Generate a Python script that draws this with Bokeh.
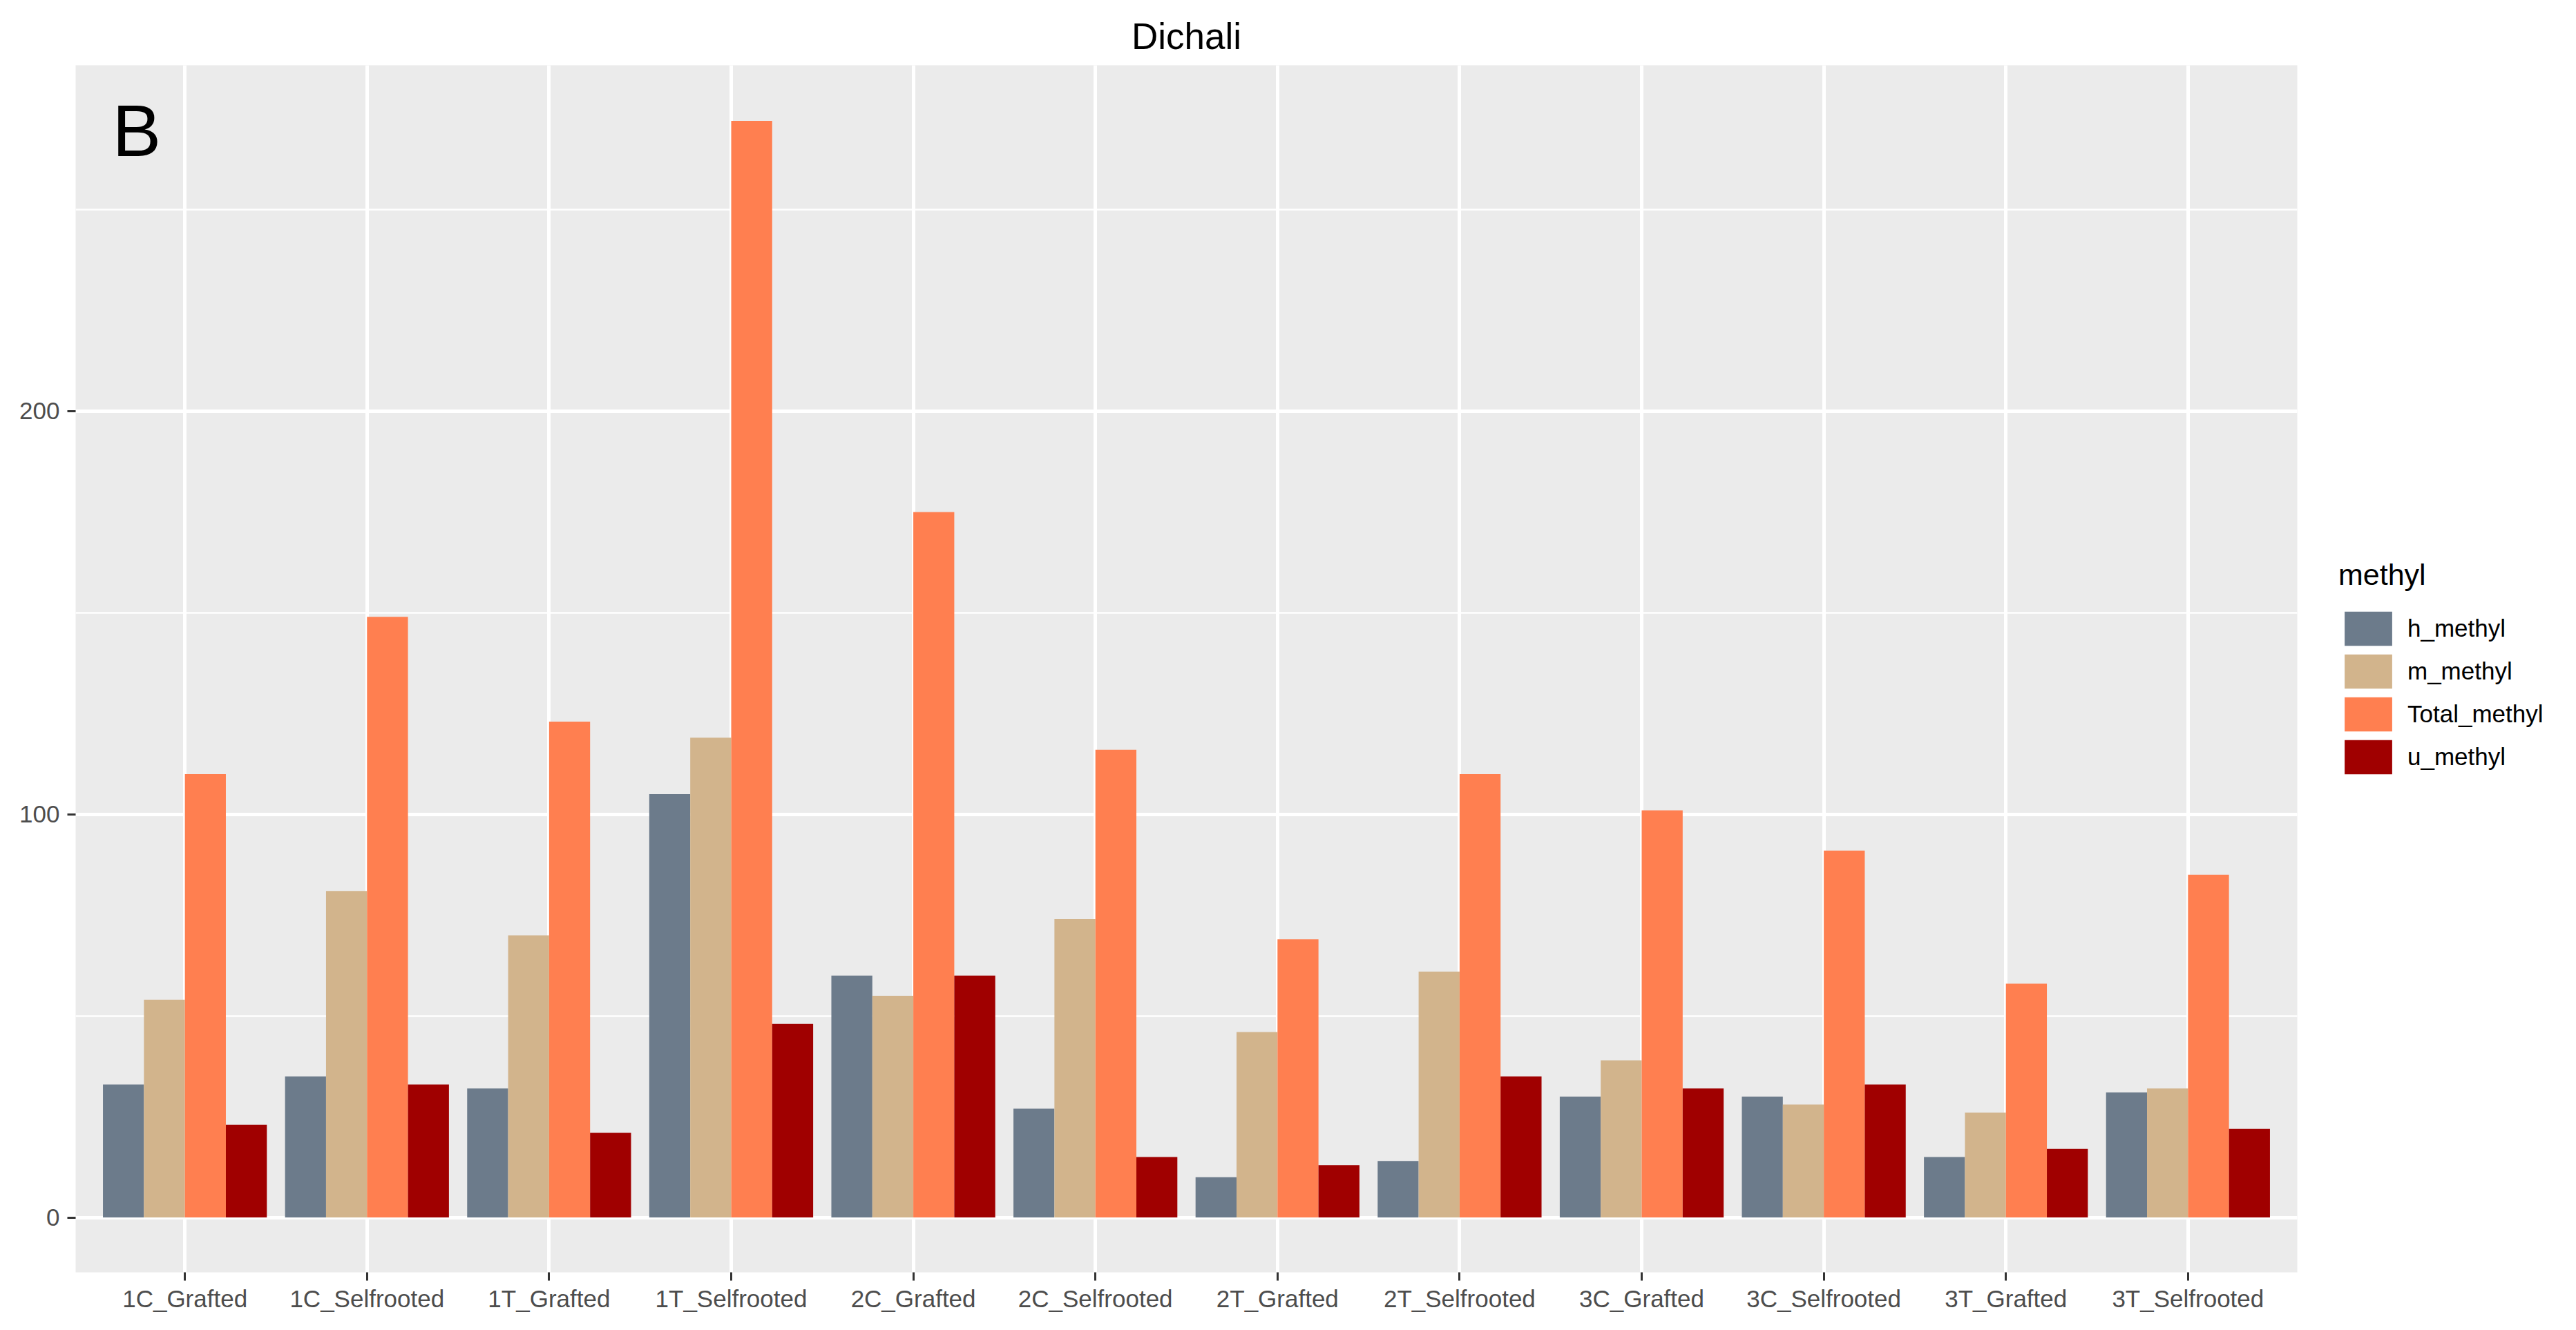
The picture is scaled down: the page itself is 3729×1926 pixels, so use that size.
from bokeh.plotting import figure
from bokeh.layouts import row
from bokeh.models import (ColumnDataSource, Range1d, FixedTicker, SingleIntervalTicker,
                          Legend, LegendItem, Label)
from bokeh.transform import dodge
from bokeh.embed import file_html
from bokeh.resources import INLINE

# ---- data ----
categories = ["1C_Grafted", "1C_Selfrooted", "1T_Grafted", "1T_Selfrooted",
              "2C_Grafted", "2C_Selfrooted", "2T_Grafted", "2T_Selfrooted",
              "3C_Grafted", "3C_Selfrooted", "3T_Grafted", "3T_Selfrooted"]
h_methyl = [33, 35, 32, 105, 60, 27, 10, 14, 30, 30, 15, 31]
m_methyl = [54, 81, 70, 119, 55, 74, 46, 61, 39, 28, 26, 32]
total_methyl = [110, 149, 123, 272, 175, 116, 69, 110, 101, 91, 58, 85]
u_methyl = [23, 33, 21, 48, 60, 15, 13, 35, 32, 33, 17, 22]
series_names = ["h_methyl", "m_methyl", "Total_methyl", "u_methyl"]
series_colors = ["#6C7B8B", "#D2B48C", "#FF7F50", "#A00000"]
title_text = "Dichali"
panel_tag = "B"
legend_title = "methyl"

FONT = "Liberation Sans"

xpos = list(range(1, len(categories) + 1))
source = ColumnDataSource(dict(x=xpos, h_methyl=h_methyl, m_methyl=m_methyl,
                               Total_methyl=total_methyl, u_methyl=u_methyl))

W, H = 3713, 1910
W1 = 3340
W2 = W - W1

p = figure(width=W1, height=H, output_backend="svg", toolbar_location=None,
           x_range=Range1d(0.4, 12.6), y_range=Range1d(-13.6, 285.8),
           min_border_left=109, min_border_right=15,
           min_border_top=94, min_border_bottom=68)

p.title.text = title_text
p.title.align = "center"
p.title.text_font = FONT
p.title.text_font_size = "53px"
p.title.text_font_style = "normal"
p.title.text_color = "black"
p.title.standoff = 26

p.background_fill_color = "#EBEBEB"
p.border_fill_color = "white"
p.outline_line_color = None

bar_w = 0.9 / 4
offsets = [-1.5 * bar_w, -0.5 * bar_w, 0.5 * bar_w, 1.5 * bar_w]
for name, col, off in zip(series_names, series_colors, offsets):
    p.vbar(x=dodge("x", off, range=p.x_range), top=name, bottom=0, width=bar_w,
           source=source, fill_color=col, line_color=None)

# axes
p.xaxis.ticker = FixedTicker(ticks=xpos)
p.xaxis.major_label_overrides = {i: c for i, c in zip(xpos, categories)}
p.yaxis.ticker = SingleIntervalTicker(interval=100, num_minor_ticks=2)
for ax in (p.xaxis[0], p.yaxis[0]):
    ax.axis_line_color = None
    ax.major_tick_in = 0
    ax.major_tick_out = 12
    ax.major_tick_line_color = "#333333"
    ax.major_tick_line_width = 3
    ax.minor_tick_line_color = None
    ax.major_label_text_font = FONT
    ax.major_label_text_font_size = "35px"
    ax.major_label_text_color = "#4D4D4D"
p.xaxis.major_label_standoff = 6
p.yaxis.major_label_standoff = 11

# grids
p.xgrid.grid_line_color = "white"
p.xgrid.grid_line_width = 5
p.ygrid.grid_line_color = "white"
p.ygrid.grid_line_width = 5
p.ygrid.minor_grid_line_color = "white"
p.ygrid.minor_grid_line_width = 2.5

tag = Label(x=53, y=1654, x_units="screen", y_units="screen", text=panel_tag,
            text_font=FONT, text_font_size="106px", text_color="black",
            text_align="left", text_baseline="alphabetic")
p.add_layout(tag)

# ---- legend, drawn in a narrow companion figure to the right ----
# (the key renderers use the same data, but this figure's ranges keep them out of view)
lf = figure(width=W2, height=H, output_backend="svg", toolbar_location=None,
            x_axis_type=None, y_axis_type=None,
            x_range=Range1d(-20, -19), y_range=Range1d(0, 1),
            min_border_left=0, min_border_right=0, min_border_top=0, min_border_bottom=0)
lf.outline_line_color = None
lf.background_fill_color = "white"
lf.border_fill_color = "white"
lf.xgrid.visible = False
lf.ygrid.visible = False

key_renderers = []
for name, col in zip(series_names, series_colors):
    r = lf.vbar(x="x", top=name, bottom=0, width=bar_w, source=source,
                fill_color=col, line_color=None)
    key_renderers.append(r)

items = [LegendItem(label=n, renderers=[r]) for n, r in zip(series_names, key_renderers)]
legend = Legend(items=items, location=(45, 715), title=legend_title,
                title_text_font=FONT, title_text_font_size="43px",
                title_text_font_style="normal", title_text_color="black",
                title_standoff=22,
                label_text_font=FONT, label_text_font_size="35px",
                label_text_color="black",
                glyph_width=86, glyph_height=62, spacing=0, label_standoff=14,
                padding=0, margin=0, border_line_color=None,
                background_fill_alpha=0)
lf.add_layout(legend)

layout = row(p, lf, spacing=0)
open("out.html", "w").write(file_html(layout, INLINE))
